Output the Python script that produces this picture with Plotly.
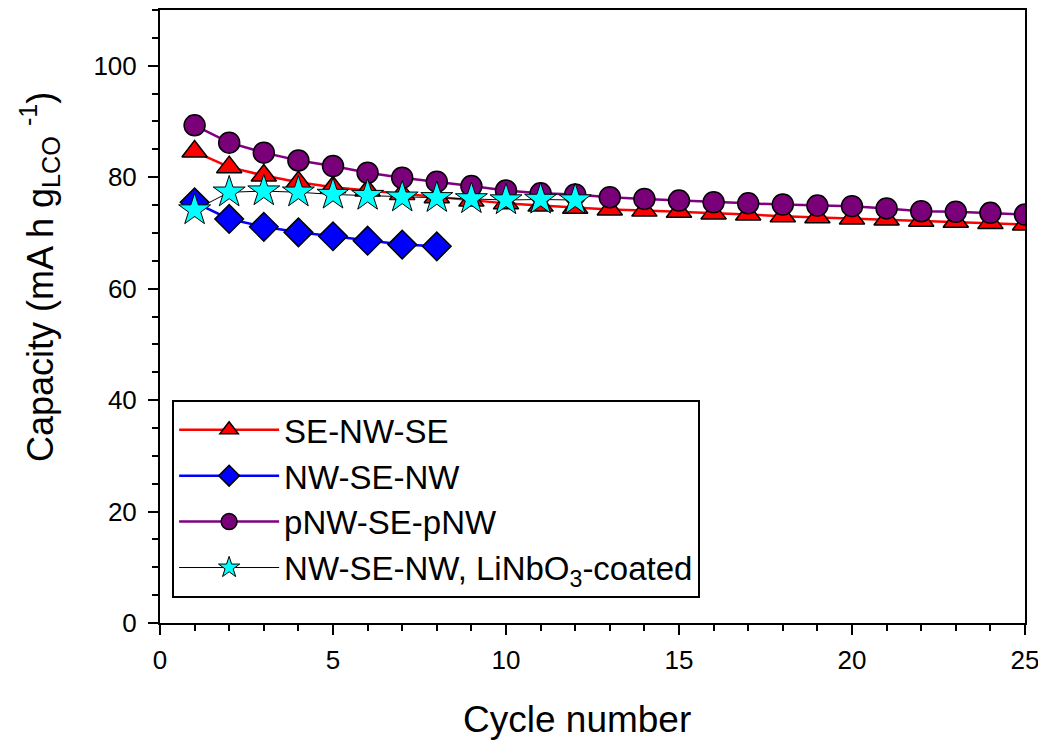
import plotly.graph_objects as go

cycles_25 = list(range(1, 26))
cycles_8 = list(range(1, 9))
cycles_12 = list(range(1, 13))

se_nw_se = [84.6, 81.8, 80.3, 79.1, 78.2, 77.6, 77.0, 76.4, 75.8, 75.3, 74.9, 74.5,
            74.2, 74.0, 73.8, 73.5, 73.3, 73.0, 72.8, 72.6, 72.4, 72.2, 72.0, 71.8, 71.5]
nw_se_nw = [75.5, 72.5, 71.1, 70.1, 69.4, 68.6, 67.9, 67.6]
pnw_se_pnw = [89.3, 86.2, 84.4, 83.0, 82.0, 80.8, 79.9, 79.2, 78.4, 77.6, 77.1, 76.9,
              76.4, 76.1, 75.8, 75.5, 75.3, 75.1, 74.9, 74.8, 74.4, 73.9, 73.8, 73.6, 73.3]
nw_coated = [74.1, 77.3, 77.5, 77.3, 76.9, 76.7, 76.4, 76.3, 76.1, 75.9, 76.0, 75.9]

names = ["SE-NW-SE", "NW-SE-NW", "pNW-SE-pNW", "NW-SE-NW, LiNbO<sub>3</sub>-coated"]
x_title = "Cycle number"
y_title = "Capacity (mA h g<sub>LCO</sub> <sup>-1</sup>)"

fig = go.Figure()
mline = dict(color="black", width=1.5)
fig.add_trace(go.Scatter(x=cycles_25, y=se_nw_se, mode="lines+markers", name=names[0],
                         legendgroup="a",
                         line=dict(color="red", width=2.5),
                         marker=dict(symbol="triangle-up", size=22, color="red", line=mline)))
fig.add_trace(go.Scatter(x=cycles_8, y=nw_se_nw, mode="lines+markers", name=names[1],
                         legendgroup="b",
                         line=dict(color="blue", width=2.5),
                         marker=dict(symbol="diamond", size=22, color="blue", line=mline)))
fig.add_trace(go.Scatter(x=cycles_25, y=pnw_se_pnw, mode="lines+markers", name=names[2],
                         legendgroup="c",
                         line=dict(color="#800080", width=2.5),
                         marker=dict(symbol="circle", size=21, color="#7a007a", line=mline)))
fig.add_trace(go.Scatter(x=cycles_12, y=nw_coated, mode="lines+markers", name=names[3],
                         legendgroup="d",
                         line=dict(color="black", width=1),
                         marker=dict(symbol="star", size=24, color="cyan", line=dict(color="black", width=1))))

fig.update_layout(
    width=1038, height=749,
    margin=dict(l=160, r=13, t=10, b=126, autoexpand=False),
    paper_bgcolor="white", plot_bgcolor="white",
    font=dict(family="Liberation Sans, Arial, sans-serif", color="black"),
    showlegend=True,
    legend=dict(x=0.014, y=0.364, xanchor="left", yanchor="top",
                bordercolor="black", borderwidth=2, bgcolor="white",
                font=dict(size=33), tracegroupgap=0,
                itemwidth=100),
    xaxis=dict(range=[0, 25], tickvals=[0, 5, 10, 15, 20, 25],
               showline=True, linecolor="black", linewidth=2, mirror=True,
               ticks="outside", ticklen=10, tickwidth=2, tickcolor="black",
               tickfont=dict(size=26), showgrid=False, zeroline=False,
               ticklabeloverflow="allow", ticklabelstandoff=3, automargin=False,
               minor=dict(dtick=1, ticks="outside", ticklen=6, tickwidth=2, tickcolor="black")),
    yaxis=dict(range=[0, 110], tickvals=[0, 20, 40, 60, 80, 100],
               showline=True, linecolor="black", linewidth=2, mirror=True,
               ticks="outside", ticklen=10, tickwidth=2, tickcolor="black",
               tickfont=dict(size=26), showgrid=False, zeroline=False,
               ticklabelstandoff=6, automargin=False,
               minor=dict(dtick=5, ticks="outside", ticklen=6, tickwidth=2, tickcolor="black")),
    annotations=[
        dict(text=x_title, xref="paper", yref="paper", x=0.482, y=-0.158,
             xanchor="center", yanchor="middle", showarrow=False, font=dict(size=37)),
        dict(text=y_title, xref="paper", yref="paper", x=-0.139, y=0.564, textangle=-90,
             xanchor="center", yanchor="middle", showarrow=False, font=dict(size=36)),
    ],
)

fig.write_html("out.html")
